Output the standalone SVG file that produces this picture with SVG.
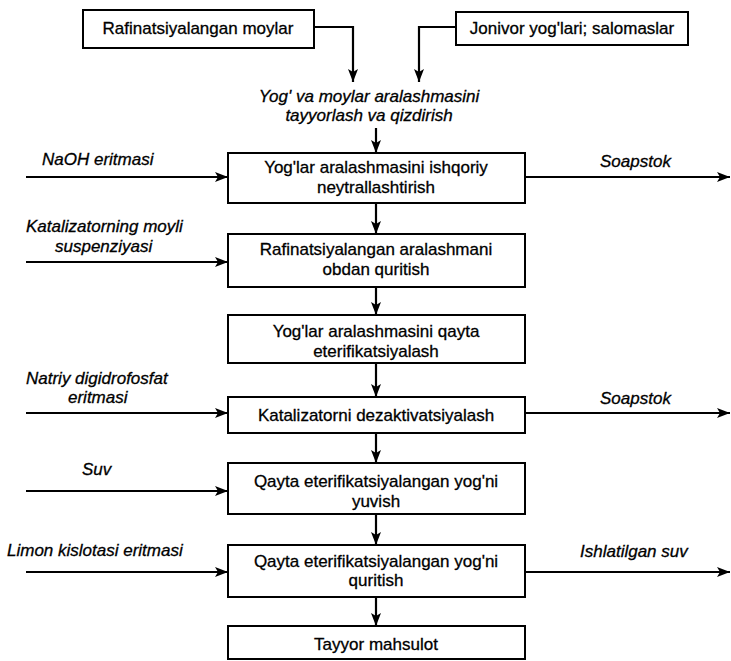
<svg xmlns="http://www.w3.org/2000/svg" width="731" height="661" viewBox="0 0 731 661">
<defs>
<marker id="ah" viewBox="0 0 13 10" refX="13" refY="5" markerWidth="13" markerHeight="10" markerUnits="userSpaceOnUse" orient="auto">
<path d="M0,0 L13,5 L0,10 L3,5 Z" fill="#000"/>
</marker>
<style>
.box{fill:#fff;stroke:#000;stroke-width:2}
.t{font-family:"Liberation Sans",Arial,sans-serif;font-size:17px;fill:#000;stroke:#000;stroke-width:0.3;text-anchor:middle}
.l{font-family:"Liberation Sans",Arial,sans-serif;font-size:17px;font-style:italic;fill:#000;stroke:#000;stroke-width:0.3}
.c{fill:none;stroke:#000;stroke-width:2.2;marker-end:url(#ah)}
</style>
</defs>
<rect width="731" height="661" fill="#fff"/>
<g id="connectors">
<path class="c" d="M314,27 H353 V82"/>
<path class="c" d="M456,27 H419 V82"/>
<path class="c" d="M376,128 V153"/>
<path class="c" d="M376,203 V234"/>
<path class="c" d="M376,287 V315"/>
<path class="c" d="M376,363 V397"/>
<path class="c" d="M376,433 V463"/>
<path class="c" d="M376,514 V545"/>
<path class="c" d="M376,597 V626"/>
<path class="c" d="M26,177 H228"/>
<path class="c" d="M26,262 H228"/>
<path class="c" d="M26,413 H228"/>
<path class="c" d="M26,491 H228"/>
<path class="c" d="M26,572 H228"/>
<path class="c" d="M525,177 H730"/>
<path class="c" d="M525,413 H730"/>
<path class="c" d="M525,572 H730"/>
</g>
<g id="labels">
<text class="l" x="42" y="165">NaOH eritmasi</text>
<text class="l" x="26" y="232">Katalizatorning moyli</text>
<text class="l" x="55" y="252">suspenziyasi</text>
<text class="l" x="26" y="384">Natriy digidrofosfat</text>
<text class="l" x="68" y="403">eritmasi</text>
<text class="l" x="82" y="475">Suv</text>
<text class="l" x="7" y="556">Limon kislotasi eritmasi</text>
<text class="l" x="600" y="167">Soapstok</text>
<text class="l" x="600" y="404">Soapstok</text>
<text class="l" x="580" y="557">Ishlatilgan suv</text>
</g>
<g id="n_raf">
<rect class="box" x="83" y="10" width="231" height="38"/>
<text class="t" x="198" y="34">Rafinatsiyalangan moylar</text>
</g>
<g id="n_jon">
<rect class="box" x="456" y="12" width="232" height="33"/>
<text class="t" x="572" y="34">Jonivor yog'lari; salomaslar</text>
</g>
<g id="n_mix">
<text class="l" x="369" y="102" text-anchor="middle">Yog' va moylar aralashmasini</text>
<text class="l" x="369" y="121" text-anchor="middle">tayyorlash va qizdirish</text>
</g>
<g id="n1">
<rect class="box" x="228" y="153" width="297" height="50"/>
<text class="t" x="376" y="173">Yog'lar aralashmasini ishqoriy</text>
<text class="t" x="376" y="193">neytrallashtirish</text>
</g>
<g id="n2">
<rect class="box" x="228" y="234" width="297" height="53"/>
<text class="t" x="376" y="255">Rafinatsiyalangan aralashmani</text>
<text class="t" x="376" y="275">obdan quritish</text>
</g>
<g id="n3">
<rect class="box" x="228" y="315" width="297" height="48"/>
<text class="t" x="376" y="337">Yog'lar aralashmasini qayta</text>
<text class="t" x="376" y="357">eterifikatsiyalash</text>
</g>
<g id="n4">
<rect class="box" x="228" y="397" width="297" height="36"/>
<text class="t" x="376" y="421">Katalizatorni dezaktivatsiyalash</text>
</g>
<g id="n5">
<rect class="box" x="228" y="463" width="297" height="51"/>
<text class="t" x="376" y="487">Qayta eterifikatsiyalangan yog'ni</text>
<text class="t" x="376" y="507">yuvish</text>
</g>
<g id="n6">
<rect class="box" x="228" y="545" width="297" height="52"/>
<text class="t" x="376" y="567">Qayta eterifikatsiyalangan yog'ni</text>
<text class="t" x="376" y="586">quritish</text>
</g>
<g id="n7">
<rect class="box" x="228" y="626" width="297" height="33"/>
<text class="t" x="376" y="650">Tayyor mahsulot</text>
</g>
</svg>
